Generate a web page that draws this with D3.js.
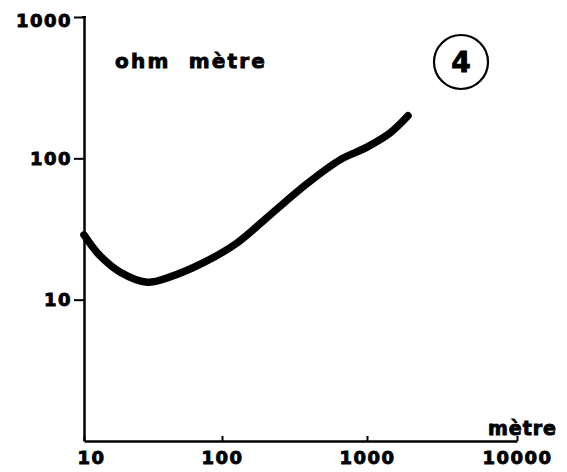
<!DOCTYPE html>
<html><head><meta charset="utf-8">
<script src="https://cdn.jsdelivr.net/npm/d3@7"></script>
<style>
html,body{margin:0;padding:0;background:#fff;}
text{font-family:"DejaVu Sans",sans-serif;font-weight:bold;fill:#000;stroke:#000;stroke-width:0.9px;}
</style></head>
<body>
<script>
// Data
const spacing = [10, 11.4, 13.1, 18.2, 28.6, 42, 72.8, 127, 214, 392, 651, 1000, 1423, 1876];
const resistivity = [28.7, 24.0, 20.4, 15.7, 13.3, 14.5, 18.2, 25.2, 39.7, 67, 97.5, 120, 151, 200];
const xTicks = [10, 100, 1000, 10000];
const xTickLabels = ["10", "100", "1000", "10000"];
const yTicks = [10, 100, 1000];
const yTickLabels = ["10", "100", "1000"];
const yUnit = "ohm  mètre";
const xUnit = "mètre";
const curveNumber = "4";

const W = 567, H = 472;
const svg = d3.select("body").append("svg").attr("width", W).attr("height", H);

const x = d3.scaleLog().domain([10, 100, 1000, 10000]).range([84, 222, 367, 517]);
const y = d3.scaleLog().domain([1, 1000]).range([441, 17]);

// X axis
const xAxis = svg.append("g").attr("transform", `translate(0,${y(1)})`)
  .call(d3.axisBottom(x).tickValues(xTicks).tickFormat((d, i) => xTickLabels[i]).tickSize(-5).tickSizeOuter(0).tickPadding(10));
xAxis.select(".domain").attr("stroke", "#000").attr("stroke-width", 2.5);
xAxis.selectAll(".tick line").attr("stroke", "#000").attr("stroke-width", 2);
xAxis.selectAll(".tick text").attr("font-size", 18).attr("letter-spacing", 1.5).attr("fill", "#000")
  .attr("dx", (d, i) => i === 0 ? 7 : 0);

// Y axis
const yAxis = svg.append("g").attr("transform", `translate(${x(10)},0)`)
  .call(d3.axisLeft(y).tickValues(yTicks).tickFormat((d, i) => yTickLabels[i]).tickSize(10).tickSizeOuter(0).tickPadding(2));
yAxis.select(".domain").attr("stroke", "#000").attr("stroke-width", 2.5);
yAxis.selectAll(".tick line").attr("stroke", "#000").attr("stroke-width", 2);
yAxis.selectAll(".tick text").attr("font-size", 18).attr("letter-spacing", 1.5).attr("fill", "#000")
  .attr("dy", (d, i) => i === 2 ? "0.52em" : "0.32em");
// small hook at top of y axis
svg.append("line").attr("x1", x(10) - 2).attr("x2", x(10) + 2).attr("y1", y(1000)).attr("y2", y(1000))
  .attr("stroke", "#000").attr("stroke-width", 2);

// Curve
const line = d3.line().x((d, i) => x(spacing[i])).y((d, i) => y(resistivity[i])).curve(d3.curveCatmullRom.alpha(0.5));
svg.append("path").datum(spacing).attr("d", line).attr("fill", "none")
  .attr("stroke", "#000").attr("stroke-width", 7.5).attr("stroke-linecap", "round").attr("stroke-linejoin", "round");

// Unit labels
svg.append("text").attr("x", 115).attr("y", 68).attr("font-size", 20).attr("letter-spacing", 2.2)
  .style("white-space", "pre").text(yUnit);
svg.append("text").attr("x", 557).attr("y", 435).attr("text-anchor", "end").attr("font-size", 19).attr("letter-spacing", 1)
  .text(xUnit);

// Circled number
svg.append("circle").attr("cx", 461).attr("cy", 62).attr("r", 27).attr("fill", "none").attr("stroke", "#000").attr("stroke-width", 2.2);
svg.append("text").attr("x", 461).attr("y", 72).attr("text-anchor", "middle").attr("font-size", 28).text(curveNumber);
</script>
</body></html>
